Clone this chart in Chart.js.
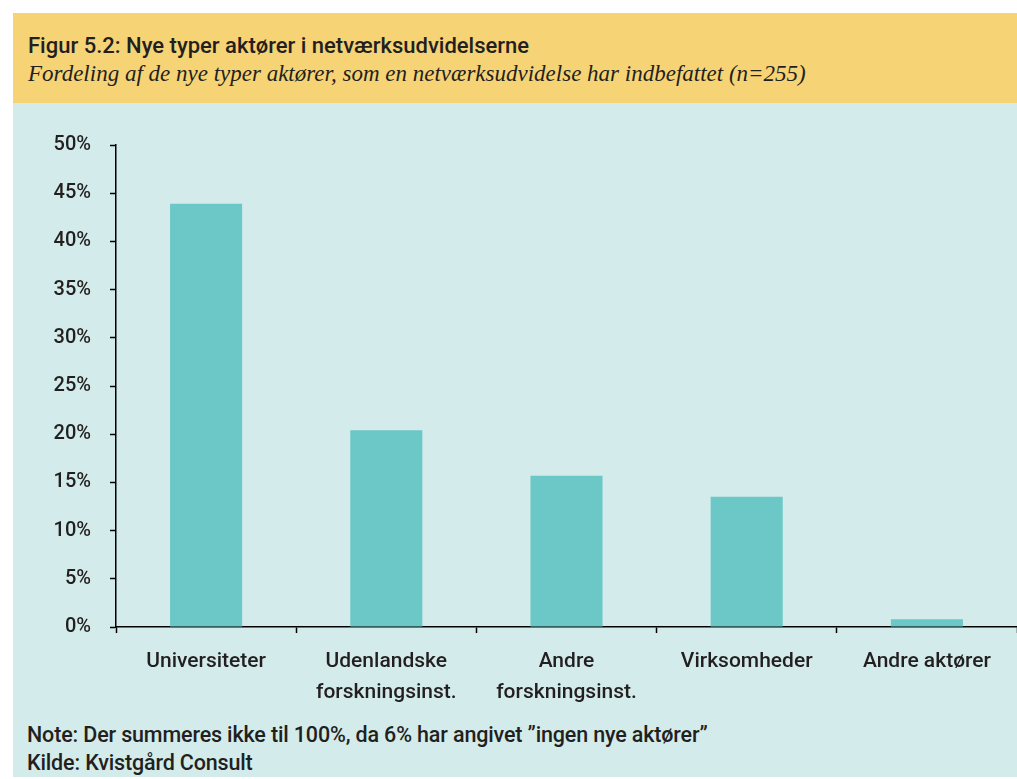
<!DOCTYPE html>
<html lang="da">
<head>
    <meta charset="UTF-8">
    <title>Figur 5.2</title>
    <script src="https://cdn.jsdelivr.net/npm/chart.js"></script>
    <style>
        body { margin: 0; background: #fff; width: 1017px; height: 779px; position: relative; overflow: hidden; font-family: Roboto, sans-serif; color: #231f20; }
        .header { position: absolute; left: 13px; top: 13px; width: 1004px; height: 90px; background: #f6d375; }
        .header h1 { position: absolute; left: 15px; top: 20px; margin: 0; font-size: 22px; font-weight: 500; white-space: nowrap; }
        .header p { position: absolute; left: 15px; top: 48px; margin: 0; font-family: "Liberation Serif", serif; font-style: italic; font-size: 23px; white-space: nowrap; }
        .panel { position: absolute; left: 13px; top: 103px; width: 1004px; height: 674px; background: #d3eceb; }
        .chart-box { position: absolute; left: 13px; top: 110px; width: 1004px; height: 600px; }
        .note { position: absolute; left: 27px; top: 721px; font-size: 21.5px; font-weight: 500; line-height: 28px; letter-spacing: -0.15px; white-space: nowrap; }
    </style>
</head>
<body>
    <div class="header">
        <h1>Figur 5.2: Nye typer aktører i netværksudvidelserne</h1>
        <p>Fordeling af de nye typer aktører, som en netværksudvidelse har indbefattet (n=255)</p>
    </div>
    <div class="panel"></div>
    <div class="chart-box"><canvas id="grafik"></canvas></div>
    <div class="note">
        Note: Der summeres ikke til 100%, da 6% har angivet ”ingen nye aktører”<br>
        Kilde: Kvistgård Consult
    </div>

    <script>
        const kategorier = ['Universiteter', ['Udenlandske', 'forskningsinst.'], ['Andre', 'forskningsinst.'], 'Virksomheder', 'Andre aktører'];
        const andele = [43.9, 20.4, 15.7, 13.5, 0.8];
        const yTicks = [0, 5, 10, 15, 20, 25, 30, 35, 40, 45, 50];

        const tekstFarve = '#231f20';

        new Chart(document.getElementById('grafik'), {
            type: 'bar',
            data: {
                labels: kategorier,
                datasets: [{
                    data: andele,
                    backgroundColor: '#6cc8c6',
                    categoryPercentage: 1,
                    barPercentage: 0.4
                }]
            },
            options: {
                responsive: true,
                maintainAspectRatio: false,
                animation: false,
                layout: { padding: { top: 35, right: 0, left: 0, bottom: 0 } },
                plugins: { legend: { display: false }, tooltip: { enabled: false } },
                scales: {
                    x: {
                        grid: { drawOnChartArea: false, color: '#000', tickLength: 6, tickWidth: 1.5 },
                        border: { color: '#000', width: 1.5 },
                        ticks: {
                            color: tekstFarve,
                            font: { family: 'Roboto', size: 21, weight: '500', lineHeight: 1.45 },
                            padding: 14, maxRotation: 0, autoSkip: false
                        },
                        afterFit: s => { s.height = 83; }
                    },
                    y: {
                        min: 0,
                        max: 50,
                        afterBuildTicks: s => { s.ticks = yTicks.map(v => ({ value: v })); },
                        grid: { drawOnChartArea: false, color: '#000', tickLength: 6, tickWidth: 1.5 },
                        border: { color: '#000', width: 1.5 },
                        ticks: {
                            color: tekstFarve,
                            font: { family: 'Roboto', size: 20, weight: '500' },
                            padding: 19, callback: v => v + '%'
                        },
                        afterFit: s => { s.width = 103; }
                    }
                }
            }
        });
    </script>
</body>
</html>
